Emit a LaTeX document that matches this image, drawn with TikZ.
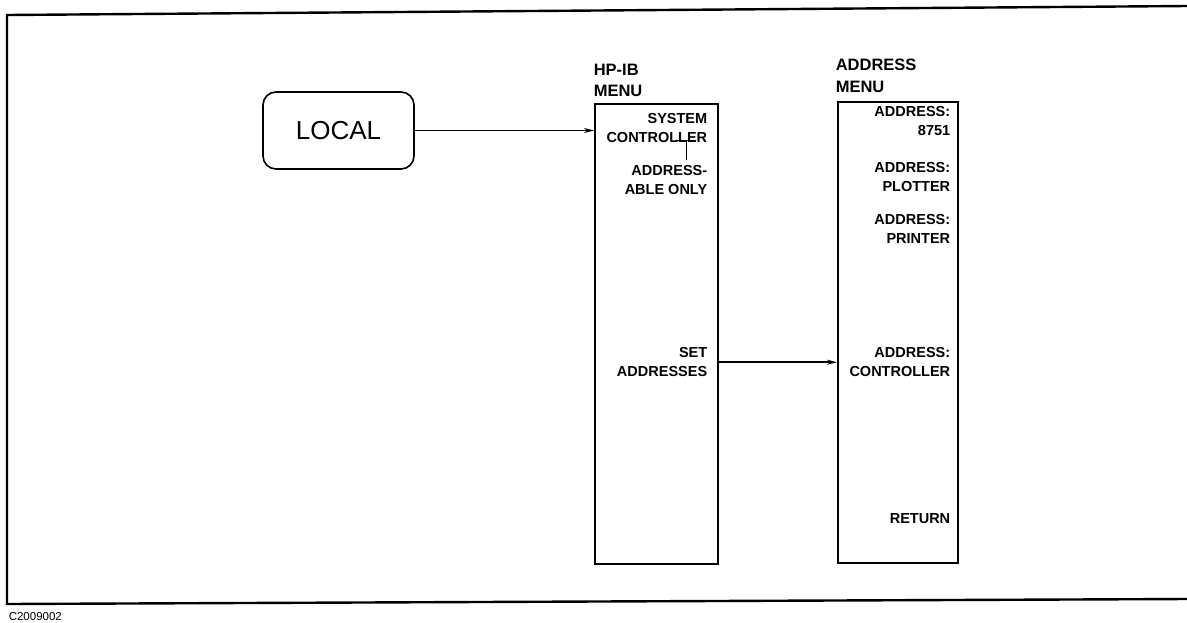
\documentclass[tikz,border=0pt]{standalone}
\usepackage{fontspec}
\setmainfont{Liberation Sans}
\usetikzlibrary{arrows.meta}

\begin{document}
\begin{tikzpicture}[x=1pt,y=-1pt,line width=1.6pt,
  softkey/.style={anchor=north east, inner sep=0pt, align=right, font=\fontsize{14.5}{18.5}\selectfont\bfseries},
  menutitle/.style={anchor=north west, inner sep=0pt, align=left, font=\fontsize{16.5}{21.5}\selectfont\bfseries},
  menubox/.style={draw, anchor=north west, inner sep=0pt},
  >={Stealth[length=10pt,width=5pt]}]
\useasboundingbox (0,0) rectangle (1187,622);

% page frame (open on the right)
\draw[line width=2.4pt] (1187,6) -- (7,15) -- (7,604) -- (1187,599);

\node[draw, rounded corners=13pt, minimum width=151pt, minimum height=77pt, font=\fontsize{26}{30}\selectfont] (local) at (338.5,130.5) {LOCAL};

% menus
\node[menutitle] (hpibtitle) at (593,63) {HP-IB\\MENU};
\node[menubox, minimum width=123pt, minimum height=460pt] (hpib) at (594,103) {};
\node[menutitle] (addrtitle) at (835,58.5) {ADDRESS\\MENU};
\node[menubox, minimum width=120pt, minimum height=461pt] (addr) at (837,101) {};

\node[softkey] (syscon) at (708,113) {SYSTEM\\CONTROLLER};
\node[softkey] (addronly) at (708,165) {ADDRESS-\\ABLE ONLY};
\node[softkey] (setaddr) at (708,347) {SET\\ADDRESSES};

\node[softkey] (a8751) at (951,106) {ADDRESS:\\8751};
\node[softkey] (aplot) at (951,162) {ADDRESS:\\PLOTTER};
\node[softkey] (aprint) at (951,214) {ADDRESS:\\PRINTER};
\node[softkey] (acontr) at (951,347) {ADDRESS:\\CONTROLLER};
\node[softkey] (aret) at (951,513) {RETURN};

% toggle mark
\coordinate (tglL) at (675,140.5);
\coordinate (tglR) at (696,140.5);
\coordinate (tgl) at (686.5,140.5);
\coordinate (tglend) at (686.5,160);
\draw[line width=1.3pt] (tglL) -- (tglR);
\draw[line width=1.3pt] (tgl) -- (tglend);

\draw[->] (local) -- (local -| hpib.west);
\draw[->] (setaddr.east -| hpib.east) -- (setaddr.east -| addr.west);

\node[anchor=base west, inner sep=0pt, font=\fontsize{11.5}{13}\selectfont] (fig) at (8,620) {C2009002};
\end{tikzpicture}
\end{document}
